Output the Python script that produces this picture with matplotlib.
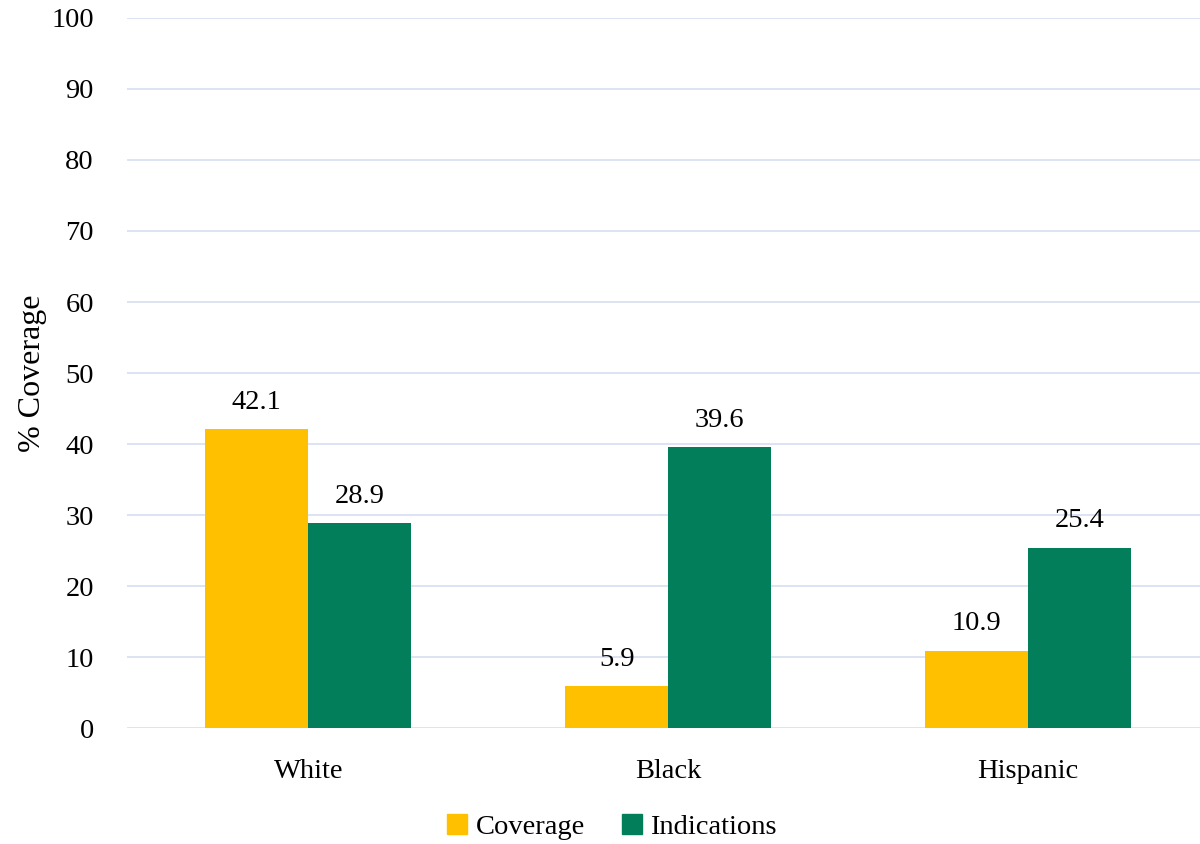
import numpy as np
import matplotlib.pyplot as plt
from matplotlib.patches import Patch

categories = ['White', 'Black', 'Hispanic']
coverage = [42.1, 5.9, 10.9]
indications = [28.9, 39.6, 25.4]
yticks = [0, 10, 20, 30, 40, 50, 60, 70, 80, 90, 100]

plt.rcParams['font.family'] = ['Liberation Serif', 'DejaVu Serif']

yellow = '#FFC000'
green = '#037E5A'
grid = '#D9E1F2'

fig = plt.figure(figsize=(12, 8.44), dpi=100)
ax = fig.add_axes([0.106, 0.1374, 0.894, 0.8413])

x = np.arange(len(categories))
w = 0.286
b1 = ax.bar(x - w/2, coverage, w, color=yellow, label='Coverage', zorder=3)
b2 = ax.bar(x + w/2, indications, w, color=green, label='Indications', zorder=3)

for bars, vals in ((b1, coverage), (b2, indications)):
    for r, v in zip(bars, vals):
        ax.text(r.get_x() + r.get_width()/2, v + 2.0, f'{v:.1f}',
                ha='center', va='bottom', fontsize=20.5)

ax.set_ylim(0, 100)
ax.set_xlim(-0.503, 2.478)
ax.set_yticks(yticks)
ax.set_xticks(x)
ax.set_xticklabels(categories)
ax.tick_params(axis='both', length=0, labelsize=20.5)
ax.tick_params(axis='y', pad=24)
ax.tick_params(axis='x', pad=22)
ax.yaxis.grid(True, color=grid, linewidth=1.3, zorder=0)
for s in ax.spines.values():
    s.set_visible(False)

ax.set_ylabel('% Coverage', fontsize=23)
ax.yaxis.set_label_coords(-0.075, 0.5)

handles = [Patch(color=yellow), Patch(color=green)]
fig.legend(handles, ['Coverage', 'Indications'], loc='center',
           bbox_to_anchor=(0.51, 0.02), ncol=2, frameon=False, fontsize=20.5,
           handlelength=0.7, handleheight=0.7, handletextpad=0.3, columnspacing=1.3)

fig.savefig('out.png', dpi=100)
